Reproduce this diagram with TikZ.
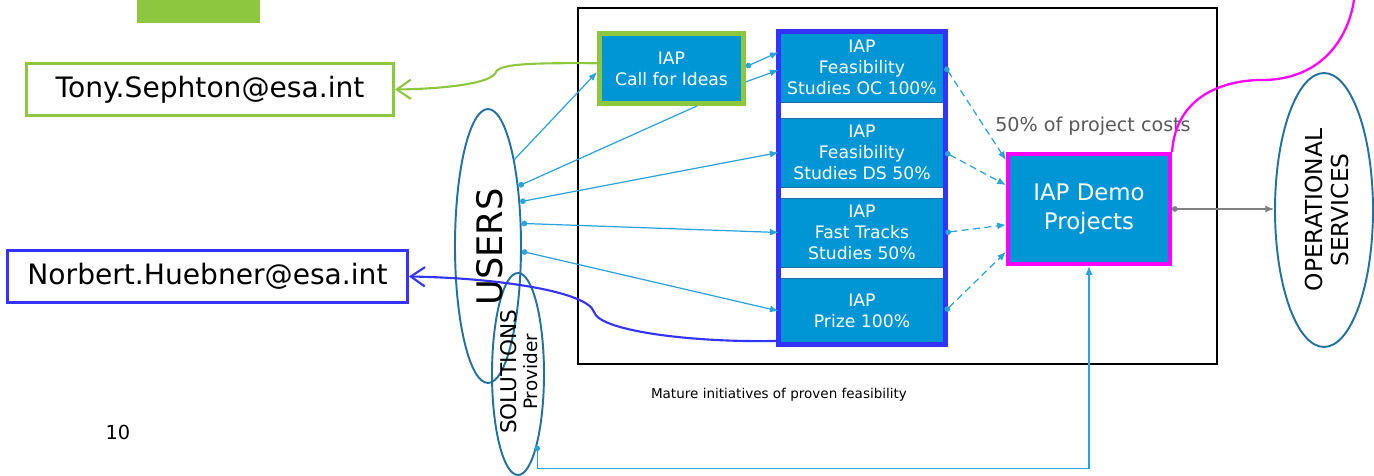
\documentclass[tikz,border=0pt]{standalone}
\usepackage{fontspec}
\setmainfont{DejaVu Sans}
\usetikzlibrary{shapes.geometric,arrows.meta}
\definecolor{iapblue}{HTML}{0096D6}
\definecolor{iapdark}{HTML}{1C6EA4}
\definecolor{linkblue}{HTML}{2AA3DC}
\definecolor{esagreen}{HTML}{8DC63F}
\definecolor{esablue}{HTML}{3333FF}
\definecolor{demopink}{HTML}{FF00FF}
\definecolor{ringblue}{HTML}{22719F}
\definecolor{costgray}{HTML}{595959}
\tikzset{
    iapbox/.style ={
        shape=rectangle,
        draw=iapdark,
        fill=iapblue,
        text=white,
        align=center,
        inner sep=0pt,
        font=\fontsize{9.8}{12}\selectfont
    },
    mailbox/.style ={
        shape=rectangle,
        fill=white,
        line width=1.7pt,
        inner sep=0pt,
        font=\fontsize{16}{19}\selectfont
    },
    ring/.style ={
        shape=ellipse,
        draw=ringblue,
        line width=1.1pt,
        inner sep=0pt
    },
    link/.style ={
        draw=linkblue,
        line width=0.7pt,
        arrows={Circle[length=3.2pt]-Latex[length=5pt,width=4pt]}
    },
    feed/.style ={
        link,
        dashed,
        dash pattern=on 4pt off 2.5pt
    },
    mailarrow/.style ={
        line width=1.2pt,
        arrows=-{Straight Barb[length=8pt,width=11pt]}
    }
}
\begin{document}
\begin{tikzpicture}[x=0.02cm,y=-0.02cm]
    \useasboundingbox (0,0) rectangle (1374,476);
    \fill[esagreen] (137,0) rectangle (260,23);
    \draw[line width=1.1pt] (578,8) rectangle (1217,364);
    \node[mailbox,draw=esagreen,minimum width=7.34cm,minimum height=1.04cm] (tony) at (210,89.5) {Tony.Sephton@esa.int};
    \node[mailbox,draw=esablue,minimum width=8cm,minimum height=1.04cm] (norbert) at (207.5,276.5) {Norbert.Huebner@esa.int};
    \node[ring,minimum width=1.32cm,minimum height=5.48cm] (users) at (488,246) {};
    \node[ring,minimum width=1.04cm,minimum height=4.04cm] (sol) at (518,374) {};
    \node[ring,minimum width=1.96cm,minimum height=5.48cm] (ops) at (1324,210) {};
    \node[rotate=90,font=\fontsize{20}{24}\selectfont] at (490,247) {USERS};
    \node[rotate=90,align=center] at (519,372) {\fontsize{12.3}{13}\selectfont SOLUTIONS\\\fontsize{10.5}{13}\selectfont Provider};
    \node[rotate=90,align=center,font=\fontsize{13.3}{15.3}\selectfont] at (1327,210) {OPERATIONAL\\SERVICES};
    \node[iapbox,draw=esagreen,line width=2.8pt,minimum width=2.88cm,minimum height=1.4cm] (cfi) at (671.5,68.5) {IAP\\Call for Ideas};
    \node[iapbox,minimum width=3.32cm,minimum height=1.4cm] (oc) at (862,67) {IAP\\Feasibility\\Studies OC 100\%};
    \node[iapbox,minimum width=3.32cm,minimum height=1.38cm] (ds) at (862,152.5) {IAP\\Feasibility\\Studies DS 50\%};
    \node[iapbox,minimum width=3.32cm,minimum height=1.38cm] (ft) at (862,232.5) {IAP\\Fast Tracks\\Studies 50\%};
    \node[iapbox,minimum width=3.32cm,minimum height=1.32cm] (prize) at (862,311) {IAP\\Prize 100\%};
    \draw[esablue,line width=2.5pt] (oc.north west) rectangle (prize.south east);
    \node[iapbox,draw=demopink,line width=2.3pt,font=\fontsize{13}{16}\selectfont,minimum width=3.24cm,minimum height=2.2cm] (demo) at (1089,209) {IAP Demo\\Projects};
    \node[text=costgray,font=\fontsize{10.9}{13}\selectfont] (cost) at (1093,126) {50\% of project costs};
    \node[font=\fontsize{7.7}{9}\selectfont] (mature) at (779,395) {Mature initiatives of proven feasibility};
    \node[font=\fontsize{11}{13}\selectfont] (page) at (118,432) {10};
    \coordinate (topedge) at (1354,0);
    \draw[link,arrows=-{Latex[length=5pt,width=4pt]}] (users.73) -- ([yshift=-2pt]cfi.west);
    \draw[link,arrows={Circle[length=3.2pt]-}] (users.63) -- ([xshift=14.5pt]cfi.south);
    \draw[link] (users.54) -- (ds.west);
    \draw[link] (users.34) -- (ft.west);
    \draw[link] (users.-9) -- (prize.west);
    \draw[link] ([yshift=1pt]cfi.east) -- ([yshift=8.5pt]oc.west);
    \draw[link,arrows=-{Latex[length=5pt,width=4pt]}] ([yshift=-7.6pt]cfi.east) -- ([yshift=-1.7pt]oc.west);
    \draw[feed] (oc.east) -- ([yshift=27.8pt]demo.west);
    \draw[feed] (ds.east) -- ([yshift=13.6pt]demo.west);
    \draw[feed] (ft.east) -- ([yshift=-9pt]demo.west);
    \draw[feed] (prize.east) -- ([yshift=-24.4pt]demo.west);
    \draw[link,draw=gray] (demo.east) -- (demo.east -| ops.west);
    \draw[link] (sol.-75) -- ++(0,23) -| (demo.south);
    \draw[mailarrow,esagreen] ([yshift=3pt]cfi.west) .. controls (540,63) and (500,63) .. (496,72) .. controls (492,84) and (440,89) .. (tony.east);
    \draw[mailarrow,esablue] ([yshift=2pt]prize.south west) .. controls (700,343) and (600,332) .. (594,312) .. controls (588,292) and (500,278) .. (norbert.east);
    \draw[demopink,line width=1.3pt] (demo.north east) .. controls (1176,95) and (1225,80) .. (1262,80) .. controls (1320,80) and (1348,40) .. (topedge);
\end{tikzpicture}
\end{document}
